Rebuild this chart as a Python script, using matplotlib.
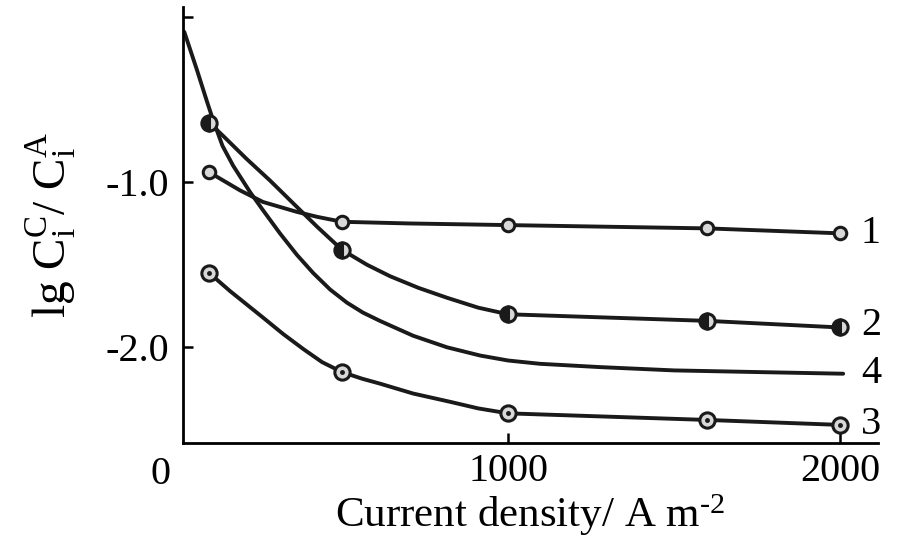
import matplotlib.pyplot as plt
import matplotlib.transforms as mtransforms

plt.rcParams['font.family'] = ['Liberation Serif', 'DejaVu Serif']
plt.rcParams['mathtext.fontset'] = 'custom'
plt.rcParams['mathtext.rm'] = 'Liberation Serif'
plt.rcParams['mathtext.it'] = 'Liberation Serif:italic'

# measured points (markers)
x_pts = [100, 500, 1000, 1600, 2000]
y1_pts = [-0.94, -1.24, -1.26, -1.28, -1.31]
y2_pts = [-0.64, -1.41, -1.80, -1.84, -1.88]
y3_pts = [-1.55, -2.15, -2.40, -2.44, -2.47]

# traced lines
x1_line = [100, 193, 262, 364, 425, 500, 700, 1000, 1300, 1600, 2000]
y1_line = [-0.94, -1.05, -1.12, -1.18, -1.21, -1.24, -1.25, -1.26, -1.27, -1.28, -1.31]
x2_line = [100, 142, 213, 283, 364, 425, 500, 575, 645, 730, 816, 910, 1000, 1300, 1600, 2000]
y2_line = [-0.64, -0.72, -0.86, -0.99, -1.15, -1.27, -1.41, -1.50, -1.57, -1.64, -1.70, -1.76, -1.80, -1.82, -1.84, -1.88]
x3_line = [100, 163, 262, 323, 383, 440, 500, 560, 614, 714, 825, 910, 1000, 1300, 1600, 2000]
y3_line = [-1.55, -1.66, -1.82, -1.92, -2.01, -2.09, -2.15, -2.19, -2.22, -2.28, -2.33, -2.37, -2.40, -2.42, -2.44, -2.47]
x4_line = [25, 63, 93, 111, 140, 172, 223, 262, 313, 364, 413, 464, 515, 563, 614, 714,
           816, 916, 1000, 1096, 1277, 1500, 1750, 2009]
y4_line = [-0.09, -0.32, -0.51, -0.62, -0.78, -0.90, -1.06, -1.17, -1.31, -1.44, -1.55, -1.65,
           -1.73, -1.79, -1.84, -1.93, -2.00, -2.05, -2.08, -2.10, -2.12, -2.14, -2.15, -2.16]

curve_labels = ['1', '2', '4', '3']
label_y = [-1.31, -1.87, -2.16, -2.47]

fig = plt.figure(figsize=(9, 5.47), dpi=100)
ax = fig.add_axes([0.2033, 0.190, 0.7723, 0.797])

lw = 2.8
for xs, ys in [(x1_line, y1_line), (x2_line, y2_line), (x3_line, y3_line), (x4_line, y4_line)]:
    ax.plot(xs, ys, color='#1a1a1a', lw=lw, solid_capstyle='round',
            solid_joinstyle='round', zorder=2)

light = '#d8d8d8'
ax.plot(x_pts, y1_pts, 'o', ms=9, mfc=light, mec='#1a1a1a', mew=2.2, zorder=3)
ax.plot(x_pts, y2_pts, 'o', ms=11, fillstyle='left', mfc='#1a1a1a', mfcalt=light,
        mec='#1a1a1a', mew=2.2, zorder=3)
ax.plot(x_pts, y3_pts, 'o', ms=11, mfc=light, mec='#1a1a1a', mew=2.2, zorder=3)
ax.plot(x_pts, y3_pts, 'o', ms=2.5, mfc='#1a1a1a', mec='#1a1a1a', zorder=4)

for lab, yv in zip(curve_labels, label_y):
    ax.text(2062, yv, lab, fontsize=29, va='center', ha='left', clip_on=False)

ax.set_xlim(21, 2114)
ax.set_ylim(-2.58, 0.06)
ax.spines['top'].set_visible(False)
ax.spines['right'].set_visible(False)
for s in ['left', 'bottom']:
    ax.spines[s].set_linewidth(2.0)

ax.set_xticks([1000, 2000])
ax.set_xticklabels(['1000', '2000'])
ax.set_yticks([0, -1.0, -2.0])
ax.set_yticklabels(['', '-1.0', '-2.0'])
ax.tick_params(axis='both', direction='in', length=7, width=1.8, labelsize=29)
ax.tick_params(axis='x', pad=7)
ax.tick_params(axis='y', pad=10)

trans = mtransforms.blended_transform_factory(ax.transData, ax.transAxes)
ax.text(-48, -0.03, '0', transform=trans, fontsize=29, ha='center', va='top', clip_on=False)

ax.set_xlabel('Current density/ A m$^{\\mathregular{\u20102}}$', fontsize=31, labelpad=2)
ax.set_ylabel(r'lg C$_{\mathregular{i}}^{\mathregular{C}}$/ C$_{\mathregular{i}}^{\mathregular{A}}$',
              fontsize=34, labelpad=20)

fig.savefig('out.png', dpi=100)
